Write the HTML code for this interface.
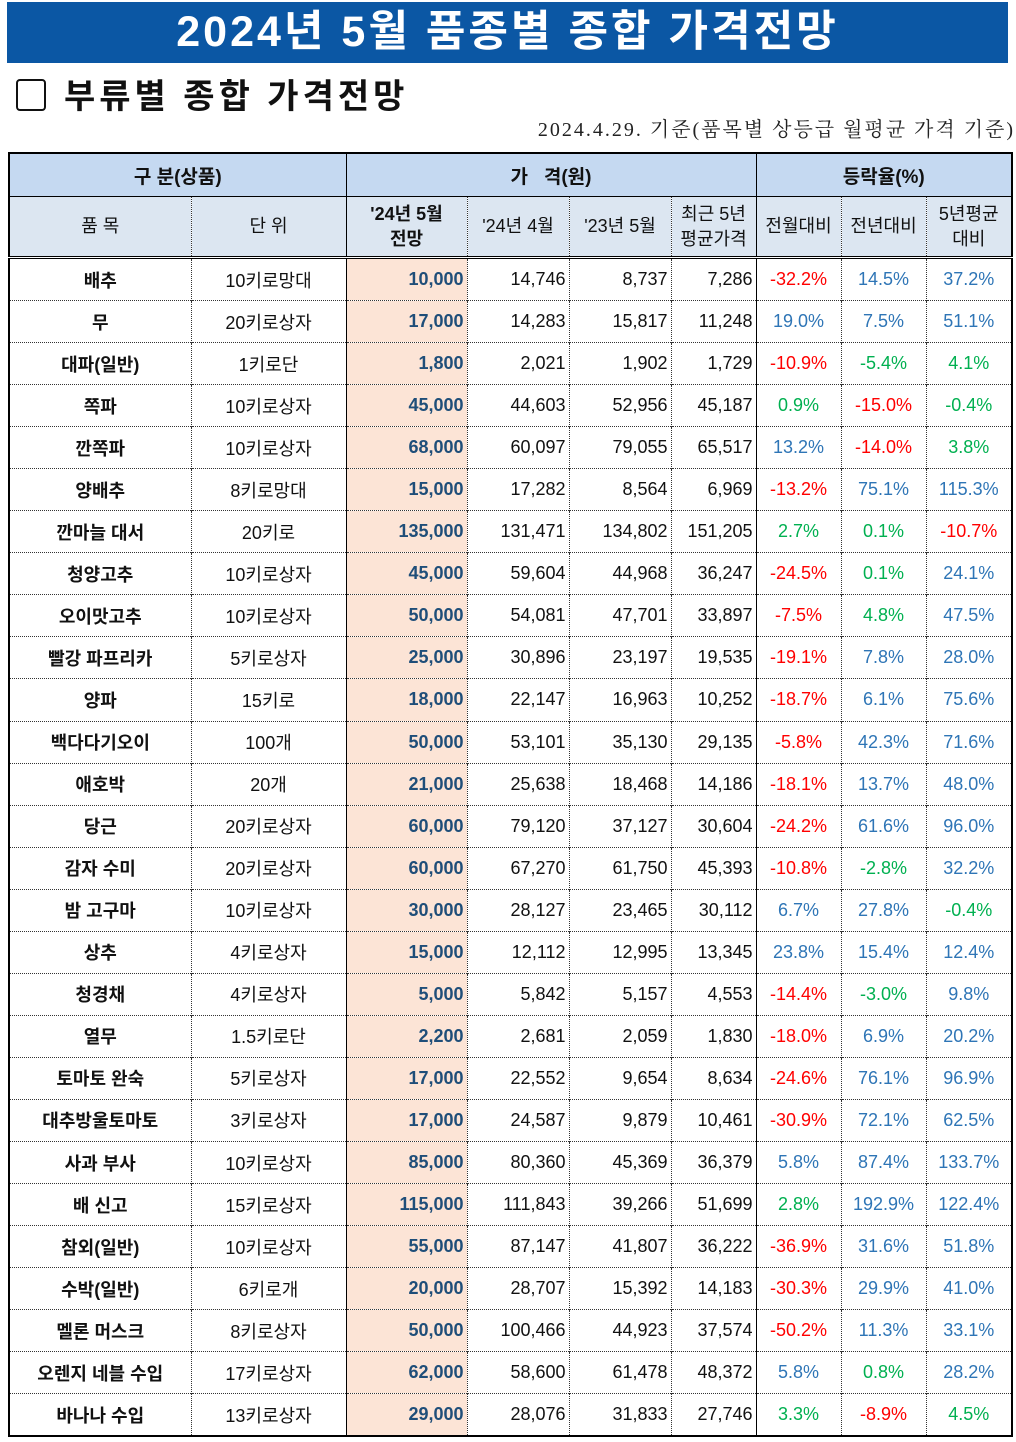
<!DOCTYPE html>
<html><head><meta charset="utf-8">
<style>
body{margin:0;width:1016px;height:1442px;background:#fff;position:relative;overflow:hidden;font-family:"Liberation Sans","Noto Sans CJK KR",sans-serif;}
#title{position:absolute;left:7px;top:2px;width:1001px;height:61px;background:#0b57a4;color:#fff;font-weight:bold;font-size:43px;text-align:center;line-height:61px;letter-spacing:3px;}
#sub{position:absolute;left:16px;top:76px;font-size:34px;font-weight:bold;color:#111;line-height:42px;letter-spacing:4px;}
#sub .box{display:inline-block;width:26px;height:28px;border:2.5px solid #111;border-radius:4px;vertical-align:-3px;margin-right:18px;}
#date{position:absolute;right:1px;top:113px;font-family:"Liberation Serif","Noto Serif CJK SC",serif;font-size:20px;color:#222;letter-spacing:2px;}
table{position:absolute;left:8px;top:152px;border-collapse:collapse;table-layout:fixed;width:1003px;border:2px solid #000;}
td{padding:0 3px;font-size:18px;color:#111;border-left:1px dotted #333;border-top:1px dotted #333;white-space:nowrap;overflow:hidden;}
tr.h1 td{background:#c5d9f1;height:42px;font-weight:bold;font-size:19px;text-align:center;border:1px solid #000;}
tr.h2 td{background:#dce6f1;height:59px;text-align:center;line-height:25px;font-size:18px;border-bottom:3px double #000;border-top:1px solid #000;}
tr.d td{height:41.05px;text-align:right;}
td.s{border-left:1px solid #000;}
td.c{text-align:center !important;}
td.b{font-weight:bold;}
td.f{background:#fce4d6;color:#1f4e79;font-weight:bold;}
.neg{color:#ff0000;}.pos{color:#2e75b6;}.mid{color:#00b050;}
</style></head><body>
<div id="title">2024년 5월 품종별 종합 가격전망</div>
<div id="sub"><span class="box"></span>부류별 종합 가격전망</div>
<div id="date">2024.4.29. 기준(품목별 상등급 월평균 가격 기준)</div>
<table id="tbl">
<colgroup><col style="width:182px"><col style="width:155px"><col style="width:121px"><col style="width:102px"><col style="width:102px"><col style="width:85px"><col style="width:85px"><col style="width:85px"><col style="width:86px"></colgroup>
<tr class="h1"><td colspan="2">구 분(상품)</td><td colspan="4">가 &nbsp; 격(원)</td><td colspan="3">등락율(%)</td></tr>
<tr class="h2"><td>품 목</td><td>단 위</td><td class="s b">'24년 5월<br>전망</td><td>'24년 4월</td><td>'23년 5월</td><td>최근 5년<br>평균가격</td><td class="s">전월대비</td><td>전년대비</td><td>5년평균<br>대비</td></tr>
</table>
<script>
const items=["배추","무","대파(일반)","쪽파","깐쪽파","양배추","깐마늘 대서","청양고추","오이맛고추","빨강 파프리카","양파","백다다기오이","애호박","당근","감자 수미","밤 고구마","상추","청경채","열무","토마토 완숙","대추방울토마토","사과 부사","배 신고","참외(일반)","수박(일반)","멜론 머스크","오렌지 네블 수입","바나나 수입"];
const units=["10키로망대","20키로상자","1키로단","10키로상자","10키로상자","8키로망대","20키로","10키로상자","10키로상자","5키로상자","15키로","100개","20개","20키로상자","20키로상자","10키로상자","4키로상자","4키로상자","1.5키로단","5키로상자","3키로상자","10키로상자","15키로상자","10키로상자","6키로개","8키로상자","17키로상자","13키로상자"];
const forecast=[10000,17000,1800,45000,68000,15000,135000,45000,50000,25000,18000,50000,21000,60000,60000,30000,15000,5000,2200,17000,17000,85000,115000,55000,20000,50000,62000,29000];
const apr24=[14746,14283,2021,44603,60097,17282,131471,59604,54081,30896,22147,53101,25638,79120,67270,28127,12112,5842,2681,22552,24587,80360,111843,87147,28707,100466,58600,28076];
const may23=[8737,15817,1902,52956,79055,8564,134802,44968,47701,23197,16963,35130,18468,37127,61750,23465,12995,5157,2059,9654,9879,45369,39266,41807,15392,44923,61478,31833];
const avg5=[7286,11248,1729,45187,65517,6969,151205,36247,33897,19535,10252,29135,14186,30604,45393,30112,13345,4553,1830,8634,10461,36379,51699,36222,14183,37574,48372,27746];
const mom=[-32.2,19.0,-10.9,0.9,13.2,-13.2,2.7,-24.5,-7.5,-19.1,-18.7,-5.8,-18.1,-24.2,-10.8,6.7,23.8,-14.4,-18.0,-24.6,-30.9,5.8,2.8,-36.9,-30.3,-50.2,5.8,3.3];
const yoy=[14.5,7.5,-5.4,-15.0,-14.0,75.1,0.1,0.1,4.8,7.8,6.1,42.3,13.7,61.6,-2.8,27.8,15.4,-3.0,6.9,76.1,72.1,87.4,192.9,31.6,29.9,11.3,0.8,-8.9];
const vs5=[37.2,51.1,4.1,-0.4,3.8,115.3,-10.7,24.1,47.5,28.0,75.6,71.6,48.0,96.0,32.2,-0.4,12.4,9.8,20.2,96.9,62.5,133.7,122.4,51.8,41.0,33.1,28.2,4.5];
const tbl=document.getElementById('tbl');
const fmt=n=>n.toLocaleString('en-US');
function cls(v){return v<=-5.5?'neg':(v>=5.5?'pos':'mid');}
function cell(tr,text,c){const td=document.createElement('td');td.textContent=text;if(c)td.className=c;tr.appendChild(td);return td;}
items.forEach((it,i)=>{
 const tr=document.createElement('tr');tr.className='d';
 
 
 let td=cell(tr,it,'c b');
 
 
 td=cell(tr,units[i],'c');
 
 
 td=cell(tr,fmt(forecast[i]),'s f');
 
 
 td=cell(tr,fmt(apr24[i]));
 
 
 td=cell(tr,fmt(may23[i]));
 
 
 td=cell(tr,fmt(avg5[i]));
 
 
 td=cell(tr,mom[i].toFixed(1)+'%','s c '+cls(mom[i]));
 
 
 td=cell(tr,yoy[i].toFixed(1)+'%','c '+cls(yoy[i]));
 
 
 td=cell(tr,vs5[i].toFixed(1)+'%','c '+cls(vs5[i]));
 
 
 tbl.appendChild(tr);
});
</script>
</body></html>
